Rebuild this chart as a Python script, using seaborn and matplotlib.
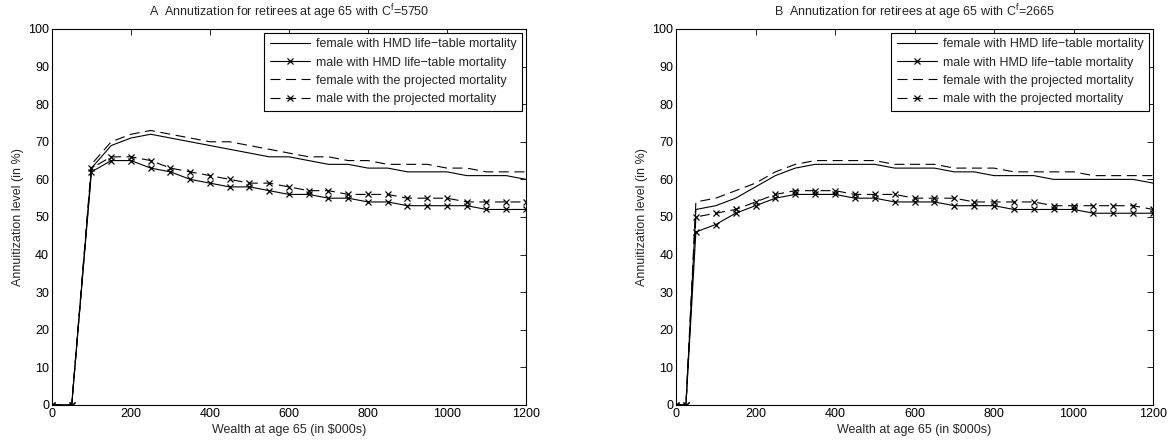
import numpy as np
import pandas as pd
import matplotlib
matplotlib.use("Agg")
import matplotlib.pyplot as plt
import seaborn as sns

# Panel A data (C^f = 5750)
wealth_a = [0, 50, 100, 150, 200, 250, 300, 350, 400, 450, 500, 550, 600,
            650, 700, 750, 800, 850, 900, 950, 1000, 1050, 1100, 1150, 1200]
female_hmd_a = [0, 0, 63, 69, 71, 72, 71, 70, 69, 68, 67, 66, 66,
                65, 64, 64, 63, 63, 62, 62, 62, 61, 61, 61, 60]
male_hmd_a = [0, 0, 62, 65, 65, 63, 62, 60, 59, 58, 58, 57, 56,
              56, 55, 55, 54, 54, 53, 53, 53, 53, 52, 52, 52]
female_proj_a = [0, 0, 64, 70, 72, 73, 72, 71, 70, 70, 69, 68, 67,
                 66, 66, 65, 65, 64, 64, 64, 63, 63, 62, 62, 62]
male_proj_a = [0, 0, 63, 66, 66, 65, 63, 62, 61, 60, 59, 59, 58,
               57, 57, 56, 56, 56, 55, 55, 55, 54, 54, 54, 54]

# Panel B data (C^f = 2665)
wealth_b = [0, 25, 50, 100, 150, 200, 250, 300, 350, 400, 450, 500, 550,
            600, 650, 700, 750, 800, 850, 900, 950, 1000, 1050, 1100, 1150, 1200]
female_hmd_b = [0, 0, 52, 53, 55, 58, 61, 63, 64, 64, 64, 64, 63,
                63, 63, 62, 62, 61, 61, 61, 60, 60, 60, 60, 60, 59]
male_hmd_b = [0, 0, 46, 48, 51, 53, 55, 56, 56, 56, 55, 55, 54,
              54, 54, 53, 53, 53, 52, 52, 52, 52, 51, 51, 51, 51]
female_proj_b = [0, 0, 54, 55, 57, 59, 62, 64, 65, 65, 65, 65, 64,
                 64, 64, 63, 63, 63, 62, 62, 62, 62, 61, 61, 61, 61]
male_proj_b = [0, 0, 50, 51, 52, 54, 56, 57, 57, 57, 56, 56, 56,
               55, 55, 55, 54, 54, 54, 54, 53, 53, 53, 53, 53, 52]

labels = ["female with HMD life\u2212table mortality",
          "male with HMD life\u2212table mortality",
          "female with the projected mortality",
          "male with the projected mortality"]
titles = ["A  Annutization for retirees at age 65 with C$^{f}$=5750",
          "B  Annutization for retirees at age 65 with C$^{f}$=2665"]

sns.set_style("white")
plt.rcParams['font.family'] = ['Liberation Sans', 'DejaVu Sans']
plt.rcParams['mathtext.fontset'] = 'custom'
plt.rcParams['mathtext.rm'] = 'Liberation Sans'
plt.rcParams['mathtext.it'] = 'Liberation Sans'
plt.rcParams['xtick.direction'] = 'in'
plt.rcParams['ytick.direction'] = 'in'

fs = 9
styles = [dict(linestyle='-', marker=None),
          dict(linestyle='-', marker='x'),
          dict(linestyle=(0, (9, 5)), marker=None),
          dict(linestyle=(0, (9, 5)), marker='x')]

fig = plt.figure(figsize=(11.73, 4.45), dpi=100)
ax_a = fig.add_axes([0.0443, 0.0899, 0.4041, 0.845])
ax_b = fig.add_axes([0.5763, 0.0899, 0.4067, 0.845])

panels = [(ax_a, wealth_a, [female_hmd_a, male_hmd_a, female_proj_a, male_proj_a]),
          (ax_b, wealth_b, [female_hmd_b, male_hmd_b, female_proj_b, male_proj_b])]

for i, (ax, x, series) in enumerate(panels):
    for lab, y, st in zip(labels, series, styles):
        df = pd.DataFrame({'x': x, 'y': y})
        sns.lineplot(data=df, x='x', y='y', ax=ax, color='black', linewidth=0.8,
                     linestyle=st['linestyle'], marker=st['marker'],
                     markersize=5, markeredgewidth=0.9, markeredgecolor='black',
                     label=lab)
    ax.set_xlim(0, 1200)
    ax.set_ylim(0, 100)
    ax.set_xticks(np.arange(0, 1201, 200))
    ax.set_yticks(np.arange(0, 101, 10))
    ax.tick_params(labelsize=fs, top=True, right=True, length=4, width=0.6,
                   pad=2, colors='black')
    for sp in ax.spines.values():
        sp.set_color('black')
        sp.set_linewidth(0.8)
    ax.set_title(titles[i], fontsize=fs, pad=9)
    ax.set_xlabel("Wealth at age 65 (in \\$000s)", fontsize=fs, labelpad=3)
    ax.set_ylabel("Annuitization level (in %)", fontsize=fs, labelpad=3)
    leg = ax.legend(loc='upper right', fontsize=fs, fancybox=False,
                    edgecolor='black', framealpha=1, borderaxespad=0.3,
                    handlelength=3.2, labelspacing=0.5, borderpad=0.45,
                    handletextpad=0.5)
    leg.get_frame().set_linewidth(0.8)

fig.savefig("out.png", dpi=100)
